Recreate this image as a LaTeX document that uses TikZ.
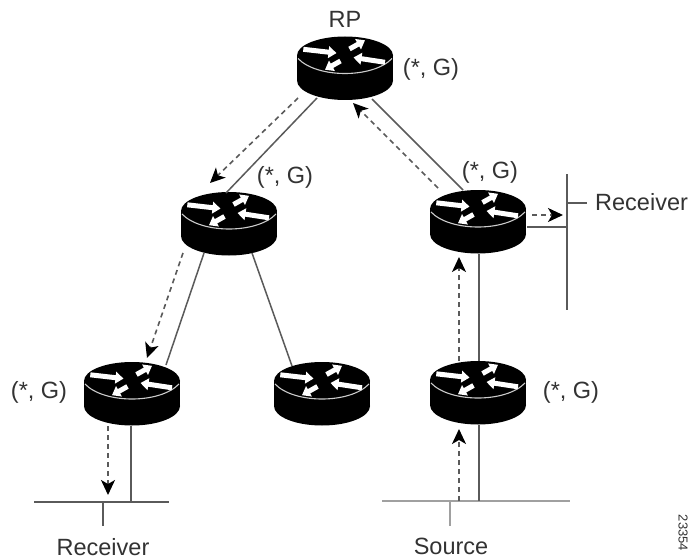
\documentclass[tikz,border=0pt]{standalone}
\usepackage{fontspec}
\setmainfont{Liberation Sans}
\usetikzlibrary{calc,arrows.meta}
\definecolor{linec}{HTML}{5A5A5A}
\definecolor{busc}{HTML}{A0A0A0}
\definecolor{textc}{HTML}{333333}
\tikzset{
  routerbox/.style={rectangle,minimum width=96pt,minimum height=64pt,inner sep=0pt,outer sep=0pt},
  wire/.style={draw=linec,line width=1.5pt},
  buswire/.style={draw=busc,line width=2.4pt},
  flow/.style={draw=linec,line width=1.6pt,dash pattern=on 5pt off 4pt,-{Stealth[length=15pt,width=14pt,inset=4pt,color=black]}},
  flat/.style={draw=white,line width=5pt,-{Triangle[length=8pt,width=11.5pt,color=white]}},
  lab/.style={text=textc,inner sep=0pt,font=\fontsize{23.5}{26}\selectfont},
}
\newcommand{\routerat}[2]{%
  \node[routerbox] (#1) at (#2) {};
  \begin{scope}[shift={(#1.center)}]
    \fill[black] (0,12) ellipse [x radius=48,y radius=19.5];
    \fill[black] (-48,-13) rectangle (48,12);
    \fill[black] (0,-13) ellipse [x radius=48,y radius=19];
    \draw[white!80!black,line width=1.1pt] (-47,-10) .. controls (-28,10) and (28,10) .. (47,-10);
    \draw[flat] (-41.7,-19.2) -- (-8.5,-15.4);
    \draw[flat] (4.5,-19.5) -- (20,-28.2);
    \draw[flat] (-4.5,-7.5) -- (-20,1.2);
    \draw[flat] (40,-6.2) -- (8.5,-11);
  \end{scope}}
\begin{document}
\begin{tikzpicture}[x=1pt,y=-1pt]
\useasboundingbox (0,0) rectangle (690,559);
\fill[white] (0,0) rectangle (690,559);
\routerat{rp}{345,68.5}
\routerat{rb}{229,224}
\routerat{rc}{478,222}
\routerat{rd}{132,394}
\routerat{re}{322,394}
\routerat{rf}{478,393}
% labels
\node[lab] (rplab) at (345,19) {RP};
\node[lab] (g1) at (431,69) {(*, G)};
\node[lab] (g2) at (285,177) {(*, G)};
\node[lab] (g3) at (490,172) {(*, G)};
\node[lab] (g4) at (39,392) {(*, G)};
\node[lab] (g5) at (571,392) {(*, G)};
\node[lab] (recA) at (103,547) {Receiver};
\node[lab] (src) at (451,546) {Source};
\node[lab,anchor=west] (recB) at (595,202) {Receiver};
\node[text=textc,inner sep=0pt,rotate=-90,font=\fontsize{13}{15}\selectfont] (tag) at (683,533) {23354};
% buses
\coordinate (busAL) at (34,502);
\coordinate (busAR) at (169,502);
\coordinate (busBL) at (382,501);
\coordinate (busBR) at (570,501);
\coordinate (busCT) at (567,174);
\coordinate (busCB) at (567,310);
\draw[wire] (busAL) -- (busAR);
\draw[buswire] (busBL) -- (busBR);
\draw[wire] (busCT) -- (busCB);
% solid connectors
\draw[wire] ($(rp)+(-28,29.5)$) -- ($(rb)+(-3,-31)$);
\draw[wire] ($(rp)+(27,30.5)$) -- ($(rc)+(-15,-32)$);
\draw[wire] ($(rb)+(-25,29)$) -- ($(rd)+(34,-29)$);
\draw[wire] ($(rb)+(23,29)$) -- ($(re)+(-30,-28)$);
\draw[wire] ($(rd)+(-1,32)$) -- ($(busAL)+(97,0)$);
\draw[wire] ($(rc)+(1,32)$) -- ($(rf)+(1,-32)$);
\draw[wire] ($(rf)+(1,32)$) -- ($(busBL)+(97,0)$);
\draw[wire] ($(rc)+(49,5)$) -- ($(busCT)+(0,53)$);
% stubs
\draw[wire] ($(busAL)+(69,0)$) -- ($(recA)+(0,-21)$);
\draw[buswire] ($(busBL)+(68,0)$) -- ($(src)+(-1,-20)$);
\draw[wire] ($(busCT)+(0,29)$) -- ($(recB.west)+(-8,1)$);
% dashed flows
\draw[flow] ($(rp)+(-47,29.5)$) -- ($(rb)+(-19,-41)$);
\draw[flow] ($(rc)+(-40,-34)$) -- ($(rp)+(8,34.5)$);
\draw[flow] ($(rb)+(-46,29)$) -- ($(rd)+(15,-36)$);
\draw[flow] ($(rd)+(-24,32)$) -- ($(busAL)+(74,-7)$);
\draw[flow] ($(rc)+(54,-7)$) -- ($(busCT)+(-4,41)$);
\draw[flow] ($(rf)+(-19,-32)$) -- ($(rc)+(-19,35)$);
\draw[flow] ($(busBL)+(77,0)$) -- ($(rf)+(-19,36)$);
\end{tikzpicture}
\end{document}
